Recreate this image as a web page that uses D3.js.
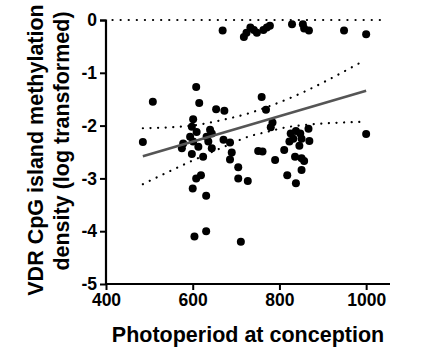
<!DOCTYPE html>
<html>
<head>
<meta charset="utf-8">
<script src="https://cdn.jsdelivr.net/npm/d3@7"></script>
<style>
  html, body { margin: 0; padding: 0; background: #fff; }
  svg { display: block; }
  text { font-family: "Liberation Sans", Arial, sans-serif; font-weight: bold; fill: #000; }
</style>
</head>
<body>
<svg id="chart" width="426" height="358"></svg>
<script>
// Photoperiod at conception (x) and log VDR CpG methylation density (y)
const photoperiod = [
  669, 718, 724, 733, 741, 748, 763, 771, 778, 829, 854, 857, 868, 949, 1000,
  608, 508, 615, 654, 673, 601, 485, 598, 609, 594, 601, 613, 578, 575, 598,
  624, 640, 644, 632, 636, 644, 671, 686, 690, 686, 705, 705, 727, 608, 619,
  600, 631, 604, 631, 711, 759, 769, 784, 780, 826, 838, 848, 832, 851, 823,
  846, 867, 869, 761, 751, 811, 790, 836, 851, 857, 851, 818, 838, 1000
];
const methylation = [
  -0.20, -0.32, -0.24, -0.14, -0.19, -0.24, -0.19, -0.14, -0.11, -0.08, -0.08, -0.16, -0.20, -0.20, -0.27,
  -1.27, -1.55, -1.57, -1.69, -1.72, -1.88, -2.31, -2.02, -2.12, -2.21, -2.30, -2.40, -2.34, -2.43, -2.54,
  -2.59, -2.08, -2.15, -2.21, -2.30, -2.43, -2.27, -2.32, -2.51, -2.64, -2.79, -3.00, -3.05, -3.00, -2.94,
  -3.19, -3.33, -4.10, -4.00, -4.20, -1.46, -1.70, -1.94, -2.03, -2.15, -2.10, -2.15, -2.25, -2.25, -2.30,
  -2.38, -2.06, -2.29, -2.49, -2.48, -2.46, -2.65, -2.59, -2.62, -2.67, -2.84, -2.94, -3.09, -2.16
];

// Regression line endpoints
const fitX = [485, 1000];
const fitY = [-2.58, -1.34];

// 95% confidence band
const bandX = [485, 587, 670, 732, 771, 824, 986];
const bandUpper = [-2.05, -2.01, -1.89, -1.76, -1.65, -1.48, -0.81];
const bandLower = [-3.11, -2.71, -2.41, -2.20, -2.12, -2.02, -1.93];

// Dotted reference line at zero
const refX = [415, 1045];
const refY = [0, 0];

const xTicks = [400, 600, 800, 1000];
const yTicks = [0, -1, -2, -3, -4, -5];
const xTitle = "Photoperiod at conception";
const yTitle = ["VDR CpG island methylation", "density (log transformed)"];

const svg = d3.select("#chart");
const x = d3.scaleLinear().domain([400, 1055]).range([106, 390]);
const y = d3.scaleLinear().domain([-5, 0]).range([284, 20]);

// Reference dotted line
const lineGen = d3.line().x(d => x(d[0])).y(d => y(d[1]));
svg.append("path")
  .attr("d", lineGen(d3.zip(refX, refY)))
  .attr("fill", "none").attr("stroke", "#000")
  .attr("stroke-width", 2.2).attr("stroke-linecap", "round")
  .attr("stroke-dasharray", "0.1,8");

// Confidence bands
const bandGen = d3.line().x(d => x(d[0])).y(d => y(d[1])).curve(d3.curveMonotoneX);
[bandUpper, bandLower].forEach(b => {
  svg.append("path")
    .attr("d", bandGen(d3.zip(bandX, b)))
    .attr("fill", "none").attr("stroke", "#000")
    .attr("stroke-width", 2.2).attr("stroke-linecap", "round")
    .attr("stroke-dasharray", "0.1,7.5");
});

// Points
svg.append("g").selectAll("circle")
  .data(d3.zip(photoperiod, methylation))
  .join("circle")
  .attr("cx", d => x(d[0]))
  .attr("cy", d => y(d[1]))
  .attr("r", 4)
  .attr("fill", "#000");

// Regression line
svg.append("path")
  .attr("d", lineGen(d3.zip(fitX, fitY)))
  .attr("fill", "none").attr("stroke", "#555")
  .attr("stroke-width", 2.6);

// Axes
const xAxis = svg.append("g").attr("transform", "translate(0,284)")
  .call(d3.axisBottom(x).tickValues(xTicks).tickSize(6).tickPadding(4).tickFormat(d3.format("d")));
const yAxis = svg.append("g").attr("transform", "translate(106,0)")
  .call(d3.axisLeft(y).tickValues(yTicks).tickSize(6).tickPadding(3).tickFormat(d => d < 0 ? "-" + Math.abs(d) : d));
[xAxis, yAxis].forEach(a => {
  a.select(".domain").attr("stroke", "#000").attr("stroke-width", 2.2);
  a.selectAll(".tick line").attr("stroke", "#000").attr("stroke-width", 2);
  a.selectAll("text").attr("font-size", 17.5).attr("font-family", "Liberation Sans, Arial, sans-serif").attr("font-weight", "bold");
});
yAxis.select(".domain").attr("d", "M-6,20.5H0V284.5");
xAxis.select(".domain").attr("d", "M106,0H390");

// Titles
svg.append("text")
  .attr("x", 248).attr("y", 342)
  .attr("text-anchor", "middle").attr("font-size", 21.5)
  .text(xTitle);

svg.append("text")
  .attr("transform", "translate(43,150) rotate(-90)")
  .attr("text-anchor", "middle").attr("font-size", 21.5)
  .text(yTitle[0]);
svg.append("text")
  .attr("transform", "translate(69,141) rotate(-90)")
  .attr("text-anchor", "middle").attr("font-size", 21.5)
  .text(yTitle[1]);
</script>
</body>
</html>
